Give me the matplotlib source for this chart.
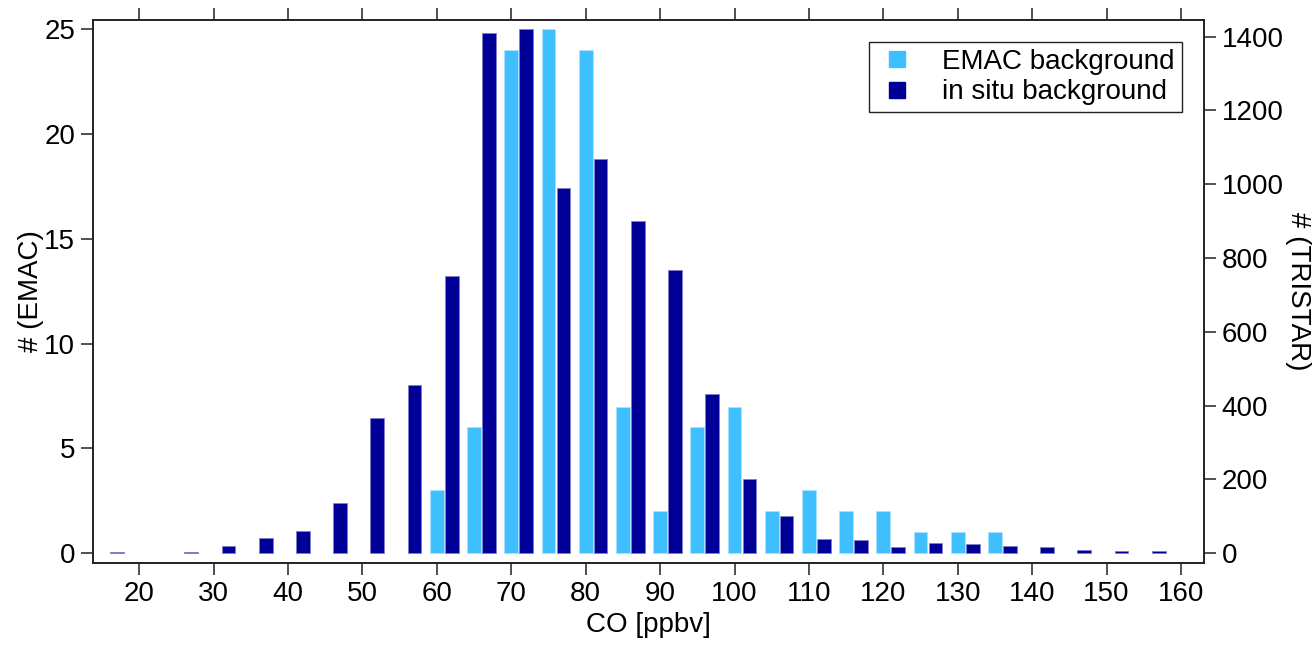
import numpy as np
import matplotlib
matplotlib.use('Agg')
import matplotlib.pyplot as plt
from matplotlib.lines import Line2D

plt.rcParams['font.family'] = ['Liberation Sans', 'DejaVu Sans']
plt.rcParams['font.size'] = 20

# CO bins [ppbv], 5 ppbv wide
co_bins = np.arange(15, 160, 5)
emac = np.array([0, 0, 0, 0, 0, 0, 0, 0, 0, 3, 6, 24, 25, 24, 7, 2, 6, 7,
                 2, 3, 2, 2, 1, 1, 1, 0, 0, 0, 0])
insitu = np.array([4, 0, 4, 21, 41, 61, 137, 367, 457, 751, 1409, 1420, 989,
                   1068, 901, 767, 432, 200, 101, 38, 35, 16, 28, 25, 21, 16,
                   10, 5, 5])
xticks = np.arange(20, 161, 10)

c_emac = '#40bfff'
c_insitu = '#000099'
c_axis = '#222222'

fig = plt.figure(figsize=(13.13, 6.45), dpi=100)
ax = fig.add_axes([0.0706, 0.1276, 0.8464, 0.8414])
ax2 = ax.twinx()

m = emac > 0
ax.bar(co_bins[m], emac[m], width=1.85, color=c_emac,
       edgecolor='#a8e2ff', linewidth=0.6, zorder=2)
m = insitu > 0
ax2.bar(co_bins[m] + 2, insitu[m], width=1.85, color=c_insitu,
        edgecolor='#8080c8', linewidth=0.6, zorder=2)

ax.set_xlim(13.74, 163.1)
ax.set_ylim(-0.45, 25.44)
ax2.set_ylim(-25.5, 1445)
ax.set_xticks(xticks)
ax.set_yticks(np.arange(0, 26, 5))
ax2.set_yticks(np.arange(0, 1401, 200))

for a in (ax, ax2):
    for s in a.spines.values():
        s.set_color(c_axis)
        s.set_linewidth(1.2)
ax.tick_params(axis='x', which='both', direction='out', length=8.5, width=1.1,
               color=c_axis, top=True, labeltop=False, pad=5)
ax.tick_params(axis='y', direction='out', length=8.5, width=1.1,
               color=c_axis, pad=4)
ax2.tick_params(axis='y', direction='out', length=8.5, width=1.1,
                color=c_axis, pad=4)

ax.set_xlabel('CO [ppbv]', labelpad=3)
ax.set_ylabel('# (EMAC)', labelpad=0)
ax2.set_ylabel('# (TRISTAR)', rotation=270, va='bottom', labelpad=1)

handles = [Line2D([], [], marker='s', linestyle='none', markersize=11,
                  color=c_emac),
           Line2D([], [], marker='s', linestyle='none', markersize=11,
                  color=c_insitu)]
leg = ax.legend(handles, ['EMAC background', 'in situ background'],
                loc='upper right', fancybox=False, framealpha=1,
                edgecolor=c_axis, borderaxespad=0.8, handlelength=1.5,
                handletextpad=0.9, labelspacing=0.15, borderpad=0.25)
leg.get_frame().set_linewidth(1.0)
leg.set_zorder(5)
ax.set_zorder(ax2.get_zorder() + 1)
ax.patch.set_visible(False)

fig.savefig('out.png', dpi=100)
